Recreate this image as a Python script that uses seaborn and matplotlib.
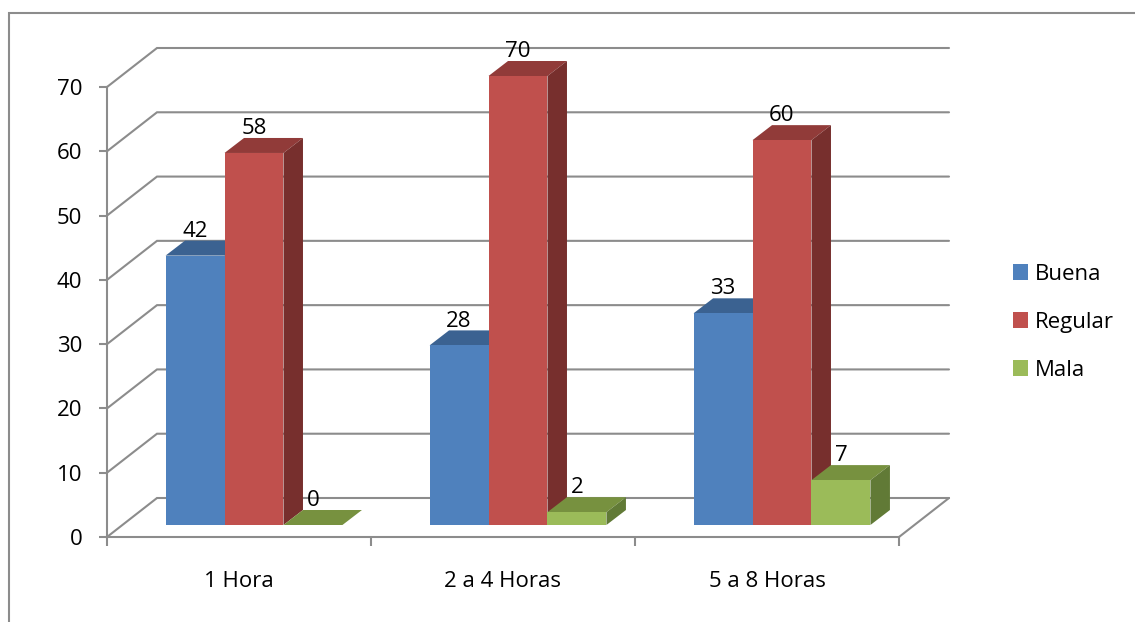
import matplotlib
matplotlib.use("Agg")
import matplotlib.pyplot as plt
from matplotlib.lines import Line2D
from matplotlib.patches import Polygon
import pandas as pd
import seaborn as sns

categories = ["1 Hora", "2 a 4 Horas", "5 a 8 Horas"]
series_names = ["Buena", "Regular", "Mala"]
buena = [42, 28, 33]
regular = [58, 70, 60]
mala = [0, 2, 7]
y_ticks = [0, 10, 20, 30, 40, 50, 60, 70]

front_colors = ["#4F81BD", "#C0504D", "#9BBB59"]
top_colors = ["#3B6291", "#913B39", "#77913F"]
side_colors = ["#2F4F76", "#772F2D", "#617A36"]
GRID = "#8C8C8C"
TEXT = "#000000"
W, H = 1135, 622
FS = 16

sns.set_theme(style="white")
plt.rcParams["font.family"] = ["Open Sans", "DejaVu Sans"]

df = pd.DataFrame({
    "cat": categories * 3,
    "serie": sum([[s] * 3 for s in series_names], []),
    "val": buena + regular + mala,
})

fig = plt.figure(figsize=(W / 100, H / 100), dpi=100, facecolor="white")


def place(left, right, top, bottom):
    return [left / W, 1 - bottom / H, (right - left) / W, (bottom - top) / H]


# front frame: value axis and category axis
ax = fig.add_axes(place(107, 899, 87, 537), zorder=0)
ax.set_xlim(-0.5, 2.5)
ax.set_ylim(0, 70)
ax.patch.set_visible(False)
for s in ("top", "right"):
    ax.spines[s].set_visible(False)
for s in ("left", "bottom"):
    ax.spines[s].set_color(GRID)
    ax.spines[s].set_linewidth(1.5)
ax.set_yticks(y_ticks)
ax.set_xticks([-0.5, 0.5, 1.5, 2.5])
ax.set_xticklabels([])
ax.set_xticks([0, 1, 2], minor=True)
ax.set_xticklabels(categories, minor=True, fontsize=FS, color=TEXT)
ax.tick_params(axis="x", which="major", bottom=True, length=6.5, width=1.5, color=GRID, direction="out")
ax.tick_params(axis="x", which="minor", bottom=False, length=0, pad=24.5)
ax.tick_params(axis="y", left=True, length=5.8, width=1.5, color=GRID, direction="out", pad=12,
               labelsize=FS, labelcolor=TEXT)

# walls: depth of the chart box, in data units of the front frame
wall_dx = 50 / 264
wall_dy = 39 / (450 / 70)
for v in y_ticks:
    ax.add_line(Line2D([-0.5, -0.5 + wall_dx, 2.5 + wall_dx], [v, v + wall_dy, v + wall_dy],
                       color=GRID, lw=1.5, clip_on=False, solid_joinstyle="miter"))
ax.add_line(Line2D([2.5, 2.5 + wall_dx], [0, wall_dy], color=GRID, lw=1.5, clip_on=False))

# bars
axb = fig.add_axes(place(122, 914, 76, 525), zorder=1)
sns.barplot(data=df, x="cat", y="val", hue="serie", order=categories, hue_order=series_names,
            palette=front_colors, saturation=1, width=0.67, gap=0, dodge=True, ax=axb,
            linewidth=0)
axb.set_xlim(-0.5, 2.5)
axb.set_ylim(0, 70)

bar_dx = 19.5 / 264
bar_dy = 15 / (449 / 70)
for i, cont in enumerate(axb.containers):
    for p in cont.patches:
        x, w, h = p.get_x(), p.get_width(), p.get_height()
        p.set_zorder(3 + 2 * i)
        top = Polygon([(x, h), (x + w, h), (x + w + bar_dx, h + bar_dy), (x + bar_dx, h + bar_dy)],
                      closed=True, fc=top_colors[i], ec="none", clip_on=False, zorder=2 + 2 * i)
        axb.add_patch(top)
        if h > 0:
            side = Polygon([(x + w, 0), (x + w + bar_dx, bar_dy), (x + w + bar_dx, h + bar_dy), (x + w, h)],
                           closed=True, fc=side_colors[i], ec="none", clip_on=False, zorder=2 + 2 * i)
            axb.add_patch(side)
    for t in axb.bar_label(cont, padding=10, fontsize=FS, color=TEXT):
        t.set_zorder(20)

handles, labels = axb.get_legend_handles_labels()
axb.legend(handles, labels, loc="upper left", bbox_to_anchor=(1006 / W, 1 - 257 / H),
           bbox_transform=fig.transFigure, frameon=False, fontsize=FS,
           handlelength=0.68, handleheight=0.68, handletextpad=0.32, labelspacing=1.22,
           borderpad=0.3, borderaxespad=0, labelcolor=TEXT)
axb.set_xlabel("")
axb.set_ylabel("")
axb.axis("off")

# outer chart border (top and left edges visible)
fig.add_artist(Line2D([9 / W, 9 / W, 1], [0, 1 - 13 / H, 1 - 13 / H], color=GRID, lw=1.5,
                      transform=fig.transFigure, solid_joinstyle="miter"))

fig.savefig("out.png", dpi=100, facecolor="white")
